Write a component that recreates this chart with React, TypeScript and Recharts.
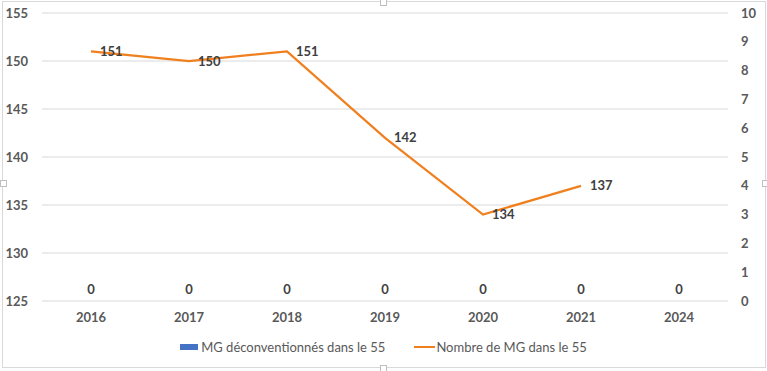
import { ComposedChart, Bar, Line, XAxis, YAxis, CartesianGrid, Legend, LabelList } from 'recharts';

const years = ['2016', '2017', '2018', '2019', '2020', '2021', '2024'];
const deconventionnes = [0, 0, 0, 0, 0, 0, 0];
const nombreMG: (number | null)[] = [151, 150, 151, 142, 134, 137, null];

const leftTicks = [125, 130, 135, 140, 145, 150, 155];
const rightTicks = [0, 1, 2, 3, 4, 5, 6, 7, 8, 9, 10];

const BLUE = '#4472C4';
const ORANGE = '#F07F1E';
const FONT = 'Lato, "Liberation Sans", sans-serif';

const data = years.map((year, i) => ({
  year,
  deconv: deconventionnes[i],
  nombre: nombreMG[i],
}));

const renderLegend = () => (
  <div
    style={{
      display: 'flex',
      justifyContent: 'center',
      alignItems: 'center',
      fontFamily: FONT,
      fontSize: 13,
      color: '#595959',
      height: 20,
    }}
  >
    <span style={{ display: 'inline-block', width: 18, height: 6, background: BLUE, marginRight: 3 }} />
    <span>MG déconventionnés dans le 55</span>
    <span style={{ display: 'inline-block', width: 21, height: 2, background: ORANGE, marginLeft: 29, marginRight: 1 }} />
    <span>Nombre de MG dans le 55</span>
  </div>
);

const handle = (left: number, top: number) => (
  <div
    style={{
      position: 'absolute',
      left: left - 3,
      top: top - 3,
      width: 5,
      height: 5,
      background: '#fff',
      border: '1px solid #bfbfbf',
    }}
  />
);

const labelProps = {
  fill: '#404040',
  fontSize: 13,
  fontWeight: 700,
  fontFamily: FONT,
};

const App = () => {
  const tickStyle = { fill: '#595959', fontSize: 13, fontWeight: 700, fontFamily: FONT };
  return (
    <div style={{ position: 'absolute', left: 0, top: 0, width: 767, height: 371, background: '#fff' }}>
      <div
        style={{
          position: 'absolute',
          left: 2,
          top: 1,
          width: 762,
          height: 365,
          border: '1px solid #d9d9d9',
        }}
      />
      {handle(383, 2)}
      {handle(3, 183)}
      {handle(765, 183)}
      {handle(383, 368)}
      <div style={{ position: 'absolute', left: 0, top: 0 }}>
        <ComposedChart
          width={767}
          height={371}
          data={data}
          margin={{ top: 13, right: 0, bottom: 14, left: 0 }}
        >
          <CartesianGrid yAxisId="left" vertical={false} stroke="#d9d9d9" />
          <XAxis
            dataKey="year"
            axisLine={false}
            tickLine={false}
            tickSize={0}
            tickMargin={12}
            height={36}
            tick={tickStyle}
            interval={0}
          />
          <YAxis
            yAxisId="left"
            orientation="left"
            domain={[125, 155]}
            ticks={leftTicks}
            axisLine={false}
            tickLine={false}
            tickSize={0}
            tickMargin={14}
            width={42}
            tick={tickStyle}
            interval={0}
          />
          <YAxis
            yAxisId="right"
            orientation="right"
            domain={[0, 10]}
            ticks={rightTicks}
            axisLine={false}
            tickLine={false}
            tickSize={0}
            tickMargin={13}
            width={39}
            tick={{ ...tickStyle, textAnchor: 'start' }}
            interval={0}
          />
          <Legend verticalAlign="bottom" height={20} content={renderLegend} />
          <Bar
            yAxisId="right"
            dataKey="deconv"
            name="MG déconventionnés dans le 55"
            fill={BLUE}
            isAnimationActive={false}
          />
          {/* zero-height bars get no labels, so the "0" values ride on an invisible series */}
          <Line
            yAxisId="right"
            dataKey="deconv"
            stroke="none"
            dot={false}
            activeDot={false}
            legendType="none"
            isAnimationActive={false}
          >
            <LabelList dataKey="deconv" position="top" offset={7} {...labelProps} />
          </Line>
          <Line
            yAxisId="left"
            dataKey="nombre"
            name="Nombre de MG dans le 55"
            stroke={ORANGE}
            strokeWidth={2.25}
            dot={false}
            activeDot={false}
            isAnimationActive={false}
            connectNulls={false}
          >
            <LabelList dataKey="nombre" position="right" offset={9} {...labelProps} />
          </Line>
        </ComposedChart>
      </div>
    </div>
  );
};

export default App;
